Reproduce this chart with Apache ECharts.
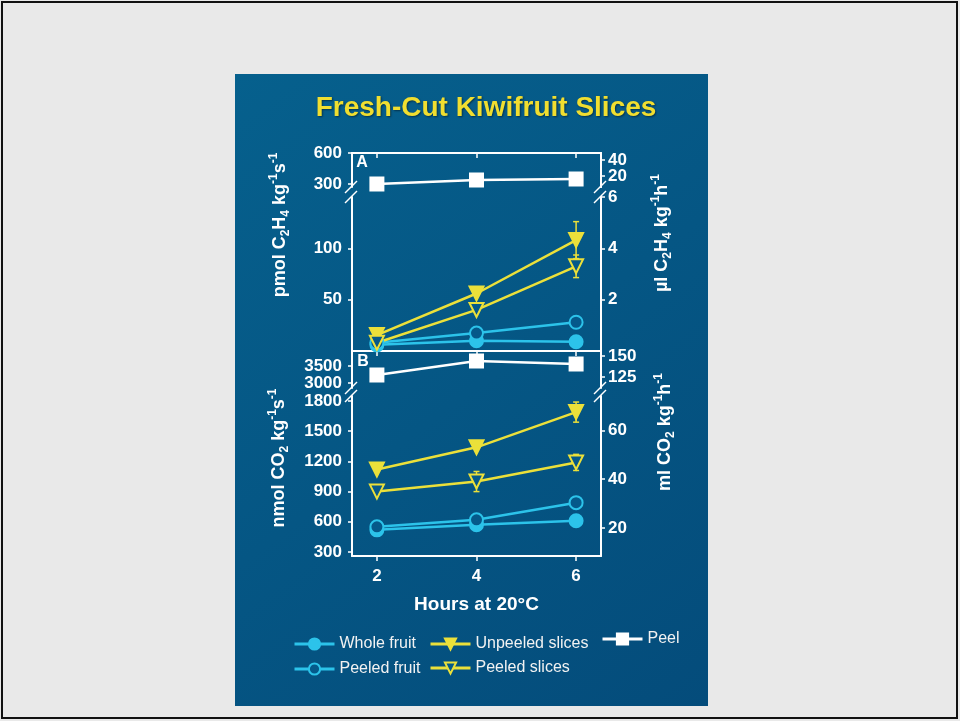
<!DOCTYPE html>
<html>
<head>
<meta charset="utf-8">
<script src="https://cdn.jsdelivr.net/npm/echarts@6/dist/echarts.min.js"></script>
<style>
html,body{margin:0;padding:0;background:#e9e9e9;}
#chart{width:960px;height:721px;}
</style>
</head>
<body>
<div id="chart"></div>
<script>
// ---------- DATA ----------
const hours = [2, 4, 6];
// Panel A: ethylene, pmol C2H4 kg-1 s-1
const ethWhole = [6, 10, 9];
const ethPeeledFruit = [8, 17.5, 28];
const ethUnpeeled = [15.5, 56, 108];
const ethPeeledSlices = [8, 40, 82.5];
const ethPeel = [300, 339, 348];
const ethUnpeeledErr = [0, 0, 18];
const ethPeeledSlicesErr = [0, 0, 11];
// Panel B: respiration, nmol CO2 kg-1 s-1
const co2Whole = [520, 570, 610];
const co2PeeledFruit = [550, 620, 790];
const co2Unpeeled = [1120, 1340, 1690];
const co2PeeledSlices = [900, 1000, 1190];
const co2Peel = [3235, 3650, 3560];
const co2UnpeeledErr = [0, 0, 100];
const co2PeeledSlicesErr = [0, 100, 80];
// tick labels
const xTicks = [2, 4, 6];
const aUpperLeftTicks = [300, 600];
const aUpperRightTicks = [20, 40];
const aLowerLeftTicks = [50, 100];
const aLowerRightTicks = [2, 4, 6];
const bUpperLeftTicks = [3000, 3500];
const bUpperRightTicks = [125, 150];
const bLowerLeftTicks = [300, 600, 900, 1200, 1500, 1800];
const bLowerRightTicks = [20, 40, 60];

// ---------- STYLE ----------
const FONT = '"Liberation Sans", Arial, Helvetica, sans-serif';
const CYAN = '#2cc3ea';
const YELLOW = '#ebe03a';
const WHITE = '#ffffff';
const BG = '#05598a';

const L = 352, R = 601;
const grids = [
  {left: L, right: 960 - R, top: 153, height: 34},   // A upper
  {left: L, right: 960 - R, top: 197, height: 154},  // A lower
  {left: L, right: 960 - R, top: 351, height: 37},   // B upper
  {left: L, right: 960 - R, top: 396, height: 160}   // B lower
];

function yAx(grid, pos, min, max, ticks) {
  return {
    type: 'value', gridIndex: grid, position: pos, min: min, max: max,
    axisLine: {show: true, onZero: false, lineStyle: {color: WHITE, width: 2}},
    axisTick: {show: true, customValues: ticks, length: 4, lineStyle: {color: WHITE, width: 1.5}},
    axisLabel: {show: true, customValues: ticks, hideOverlap: false, showMinLabel: true, showMaxLabel: true,
                color: WHITE, fontWeight: 'bold',
                fontSize: 17, fontFamily: FONT, margin: pos === 'left' ? 10 : 7,
                formatter: v => String(v)},
    splitLine: {show: false}
  };
}
function xAx(grid, pos, opts) {
  return Object.assign({
    type: 'value', gridIndex: grid, position: pos, min: 1.5, max: 6.5,
    axisLine: {show: true, onZero: false, lineStyle: {color: WHITE, width: 2}},
    axisTick: {show: true, customValues: xTicks, length: 5, lineStyle: {color: WHITE, width: 1.5}},
    axisLabel: {show: false},
    splitLine: {show: false}
  }, opts || {});
}

const xAxes = [
  xAx(0, 'top', {axisTick: {show: true, inside: true, customValues: xTicks, length: 5, lineStyle: {color: WHITE, width: 1.5}}}),
  xAx(1, 'bottom'),
  xAx(2, 'bottom', {show: false}),
  xAx(3, 'bottom', {
    axisLabel: {show: true, customValues: xTicks, color: WHITE, fontWeight: 'bold', fontSize: 17, fontFamily: FONT, margin: 12},
    name: 'Hours at 20°C', nameLocation: 'middle', nameGap: 39,
    nameTextStyle: {color: WHITE, fontWeight: 'bold', fontSize: 19, fontFamily: FONT}
  })
];
const yAxes = [
  yAx(0, 'left', 271, 600, aUpperLeftTicks),
  yAx(0, 'right', 6.25, 48.75, aUpperRightTicks.slice(0, 1)),
  yAx(1, 'left', 0, 150, aLowerLeftTicks),
  yAx(1, 'right', 0, 6, aLowerRightTicks),
  yAx(2, 'left', 2853, 3941, bUpperLeftTicks),
  yAx(2, 'right', 112, 156, bUpperRightTicks),
  yAx(3, 'left', 260, 1850, bLowerLeftTicks),
  yAx(3, 'right', 8.6, 74.0, bLowerRightTicks),
  // second right axis on A upper carrying the top label (avoids auto-hiding of close labels)
  yAx(0, 'right', 6.25, 48.75, aUpperRightTicks.slice(1))
];

const styles = {
  'Whole fruit':     {symbol: 'circle', size: 13, rot: 0,   line: CYAN,   fill: CYAN,   border: CYAN},
  'Peeled fruit':    {symbol: 'circle', size: 13, rot: 0,   line: CYAN,   fill: BG,     border: CYAN},
  'Unpeeled slices': {symbol: 'triangle', size: 14, rot: 180, line: YELLOW, fill: YELLOW, border: YELLOW},
  'Peeled slices':   {symbol: 'triangle', size: 14, rot: 180, line: YELLOW, fill: BG,     border: YELLOW},
  'Peel':            {symbol: 'rect', size: 13, rot: 0,   line: WHITE,  fill: WHITE,  border: WHITE}
};
function lineSeries(name, values, xi, yi) {
  const s = styles[name];
  return {
    type: 'line', name: name, xAxisIndex: xi, yAxisIndex: yi,
    data: hours.map((h, i) => [h, values[i]]),
    symbol: s.symbol, symbolSize: s.size, symbolRotate: s.rot,
    lineStyle: {color: s.line, width: 2.5},
    itemStyle: {color: s.fill, borderColor: s.border, borderWidth: 2},
    z: 3, animation: false
  };
}
function errSeries(values, errs, color, xi, yi) {
  const d = [];
  hours.forEach((h, i) => { if (errs[i] > 0) d.push([h, values[i] - errs[i], values[i] + errs[i]]); });
  return {
    type: 'custom', name: 'err', xAxisIndex: xi, yAxisIndex: yi, data: d, z: 2, animation: false,
    encode: {x: 0, y: [1, 2]},
    renderItem: function (params, api) {
      const lo = api.coord([api.value(0), api.value(1)]);
      const hi = api.coord([api.value(0), api.value(2)]);
      const st = {stroke: color, lineWidth: 1.5};
      return {type: 'group', children: [
        {type: 'line', shape: {x1: lo[0], y1: lo[1], x2: hi[0], y2: hi[1]}, style: st},
        {type: 'line', shape: {x1: lo[0] - 3, y1: lo[1], x2: lo[0] + 3, y2: lo[1]}, style: st},
        {type: 'line', shape: {x1: hi[0] - 3, y1: hi[1], x2: hi[0] + 3, y2: hi[1]}, style: st}
      ]};
    }
  };
}

const series = [
  errSeries(ethUnpeeled, ethUnpeeledErr, YELLOW, 1, 2),
  errSeries(ethPeeledSlices, ethPeeledSlicesErr, YELLOW, 1, 2),
  errSeries(co2Unpeeled, co2UnpeeledErr, YELLOW, 3, 6),
  errSeries(co2PeeledSlices, co2PeeledSlicesErr, YELLOW, 3, 6),
  lineSeries('Whole fruit', ethWhole, 1, 2),
  lineSeries('Peeled fruit', ethPeeledFruit, 1, 2),
  lineSeries('Unpeeled slices', ethUnpeeled, 1, 2),
  lineSeries('Peeled slices', ethPeeledSlices, 1, 2),
  lineSeries('Peel', ethPeel, 0, 0),
  lineSeries('Whole fruit', co2Whole, 3, 6),
  lineSeries('Peeled fruit', co2PeeledFruit, 3, 6),
  lineSeries('Unpeeled slices', co2Unpeeled, 3, 6),
  lineSeries('Peeled slices', co2PeeledSlices, 3, 6),
  lineSeries('Peel', co2Peel, 2, 4)
];

function legendAt(name, left, top) {
  return {
    data: [name], left: left, top: top, padding: 0, itemWidth: 40, itemHeight: 14,
    selectedMode: false,
    lineStyle: {width: 3},
    textStyle: {color: '#f2f2f2', fontSize: 16, fontFamily: FONT}
  };
}
const legends = [
  legendAt('Whole fruit', 293, 636),
  legendAt('Unpeeled slices', 429, 636),
  legendAt('Peel', 601, 631),
  legendAt('Peeled fruit', 293, 661),
  legendAt('Peeled slices', 429, 660)
];

// break marks
function slash(x, y) {
  return {type: 'line', shape: {x1: x - 7, y1: y + 6, x2: x + 5, y2: y - 6},
          style: {stroke: WHITE, lineWidth: 1.5}, z: 10};
}
const breaks = [];
[L, R].forEach(x => {
  [187, 197, 388, 396].forEach(y => breaks.push(slash(x, y)));
});

const n = {fontSize: 18, fontWeight: 'bold', fill: WHITE, lineHeight: 24, fontFamily: FONT};
const sb = {fontSize: 12, fontWeight: 'bold', fill: WHITE, lineHeight: 12, verticalAlign: 'bottom', fontFamily: FONT};
const sp = {fontSize: 12, fontWeight: 'bold', fill: WHITE, lineHeight: 12, verticalAlign: 'top', fontFamily: FONT};
const rich = {n: n, b: sb, p: sp};
function vtitle(text, x, y) {
  return {type: 'text', x: x, y: y, rotation: Math.PI / 2, z: 10,
          style: {text: text, rich: rich, fill: WHITE, align: 'center', verticalAlign: 'middle',
                  fontSize: 18, fontWeight: 'bold', fontFamily: FONT}};
}

const graphics = [
  {type: 'rect', shape: {x: 2, y: 2, width: 955, height: 716},
   style: {fill: '#e9e9e9', stroke: '#111', lineWidth: 2}, z: -10},
  {type: 'rect', shape: {x: 235, y: 74, width: 473, height: 632}, z: -9,
   style: {fill: new echarts.graphic.LinearGradient(0, 0, 1, 1, [
     {offset: 0, color: '#06608d'}, {offset: 1, color: '#044c7b'}])}},
  {type: 'text', x: 486, y: 108, z: 10,
   style: {text: 'Fresh-Cut Kiwifruit Slices', fill: '#f0de30', fontSize: 28, fontWeight: 'bold',
           fontFamily: FONT, align: 'center', verticalAlign: 'middle',
           textShadowColor: 'rgba(0,0,0,0.45)', textShadowBlur: 2, textShadowOffsetX: 1, textShadowOffsetY: 1}},
  {type: 'text', x: 362, y: 163, z: 10,
   style: {text: 'A', fill: WHITE, fontSize: 16, fontWeight: 'bold', fontFamily: FONT, align: 'center', verticalAlign: 'middle'}},
  {type: 'text', x: 363, y: 362, z: 10,
   style: {text: 'B', fill: WHITE, fontSize: 16, fontWeight: 'bold', fontFamily: FONT, align: 'center', verticalAlign: 'middle'}},
  vtitle('{n|pmol C}{b|2}{n|H}{b|4}{n| kg}{p|-1}{n|s}{p|-1}', 280, 225),
  vtitle('{n|µl C}{b|2}{n|H}{b|4}{n| kg}{p|-1}{n|h}{p|-1}', 662, 233),
  vtitle('{n|nmol CO}{b|2}{n| kg}{p|-1}{n|s}{p|-1}', 279, 458),
  vtitle('{n|ml CO}{b|2}{n| kg}{p|-1}{n|h}{p|-1}', 665, 432)
].concat(breaks);

const chart = echarts.init(document.getElementById('chart'), null, {renderer: 'canvas'});
chart.setOption({
  backgroundColor: '#e9e9e9',
  animation: false,
  grid: grids,
  xAxis: xAxes,
  yAxis: yAxes,
  legend: legends,
  series: series,
  graphic: graphics
});
</script>
</body>
</html>
